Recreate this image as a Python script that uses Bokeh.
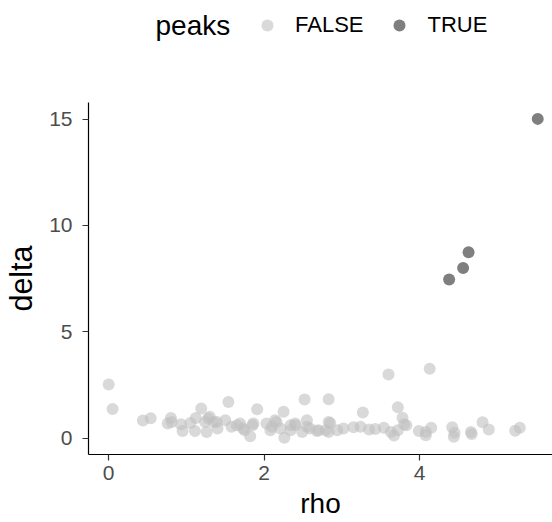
from bokeh.plotting import figure
from bokeh.layouts import column
from bokeh.models import ColumnDataSource, Legend, LegendItem, Label, FixedTicker, Range1d
from bokeh.embed import file_html
from bokeh.resources import INLINE

# Data
rho_false = [0.00, 0.05, 0.44, 0.54, 0.80, 0.76, 0.81, 0.95, 0.93, 1.05,
             1.12, 1.19, 1.11, 1.24, 1.26, 1.30, 1.35, 1.39, 1.40, 1.50,
             1.54, 1.58, 1.65, 1.69, 1.75, 1.82, 1.86, 1.91, 2.03, 2.08,
             2.10, 2.14, 2.16, 2.21, 2.25, 2.26, 2.34, 2.34, 2.40, 2.49,
             2.52, 2.55, 2.55, 2.59, 2.68, 2.70, 2.79, 2.83, 2.83, 2.83,
             2.85, 2.94, 3.02, 3.15, 3.24, 3.27, 3.35, 3.43, 3.54, 3.60,
             3.63, 3.67, 3.72, 3.72, 3.78, 3.80, 3.83, 3.99, 4.08, 4.08,
             4.13, 4.15, 4.42, 4.45, 4.44, 4.66, 4.67, 4.81, 4.89, 5.23,
             5.29, 1.73, 1.85, 1.28, 2.40]
delta_false = [2.52, 1.37, 0.83, 0.93, 0.95, 0.69, 0.76, 0.33, 0.65, 0.71,
               0.95, 1.39, 0.33, 0.76, 0.29, 1.00, 0.76, 0.76, 0.45, 0.84,
               1.70, 0.53, 0.61, 0.69, 0.37, 0.09, 0.69, 1.36, 0.69, 0.37,
               0.53, 0.84, 0.76, 0.45, 1.24, 0.02, 0.61, 0.37, 0.69, 0.29,
               1.82, 0.84, 0.53, 0.45, 0.33, 0.37, 0.37, 1.83, 0.76, 0.29,
               0.71, 0.37, 0.45, 0.51, 0.54, 1.20, 0.40, 0.43, 0.49, 2.99,
               0.29, 0.12, 0.37, 1.45, 0.96, 0.65, 0.61, 0.33, 0.29, 0.14,
               3.26, 0.49, 0.51, 0.25, 0.06, 0.29, 0.19, 0.75, 0.41, 0.35,
               0.49, 0.45, 0.61, 0.92, 0.61]
rho_true = [5.52, 4.63, 4.56, 4.38]
delta_true = [15.01, 8.74, 8.00, 7.46]

x_ticks = [0, 2, 4]
y_ticks = [0, 5, 10, 15]
legend_title = "peaks"
legend_labels = ["FALSE", "TRUE"]

FONT = "Liberation Sans"
COL_F, ALPHA_F = "#C0C0C0", 0.6
COL_T, ALPHA_T = "#7F7F7F", 1.0

src_f = ColumnDataSource(dict(x=rho_false, y=delta_false))
src_t = ColumnDataSource(dict(x=rho_true, y=delta_true))

# ---------------- main plot ----------------
p = figure(width=552, height=424, output_backend="svg", toolbar_location=None,
           x_range=Range1d(-0.26, 5.71), y_range=Range1d(-0.77, 15.78),
           min_border_left=88, min_border_right=0, min_border_top=4,
           min_border_bottom=68)
p.outline_line_color = None
p.xgrid.visible = False
p.ygrid.visible = False

p.scatter("x", "y", source=src_f, size=12, fill_color=COL_F,
          fill_alpha=ALPHA_F, line_color=None)
p.scatter("x", "y", source=src_t, size=12, fill_color=COL_T,
          fill_alpha=ALPHA_T, line_color=None)

for ax, ticks, title in ((p.xaxis[0], x_ticks, "rho"), (p.yaxis[0], y_ticks, "delta")):
    ax.ticker = FixedTicker(ticks=ticks)
    ax.minor_tick_line_color = None
    ax.major_tick_in = 0
    ax.major_tick_out = 6
    ax.major_tick_line_color = "#333333"
    ax.major_tick_line_width = 1.2
    ax.axis_line_color = "#000000"
    ax.axis_line_width = 1.2
    ax.major_label_text_font = FONT
    ax.major_label_text_font_size = "21px"
    ax.major_label_text_color = "#4D4D4D"
    ax.axis_label = title
    ax.axis_label_text_font = FONT
    ax.axis_label_text_font_style = "normal"
    ax.axis_label_text_color = "#000000"
    ax.axis_label_text_line_height = 1.0

p.xaxis[0].axis_label_text_font_size = "28px"
p.yaxis[0].axis_label_text_font_size = "30.5px"
p.xaxis[0].major_label_standoff = 5
p.xaxis[0].axis_label_standoff = 5
p.yaxis[0].major_label_standoff = 10
p.yaxis[0].axis_label_standoff = 8

# ---------------- legend strip ----------------
lg = figure(width=552, height=98, output_backend="svg", toolbar_location=None,
            x_range=Range1d(88, 552), y_range=Range1d(0, 98),
            x_axis_location=None, y_axis_location=None,
            min_border=0, min_border_left=88, min_border_right=0)
lg.outline_line_color = None
lg.xgrid.visible = False
lg.ygrid.visible = False
lf = lg.scatter("x", "y", source=src_f, size=12, fill_color=COL_F,
                fill_alpha=ALPHA_F, line_color=None)
lt = lg.scatter("x", "y", source=src_t, size=12, fill_color=COL_T,
                fill_alpha=ALPHA_T, line_color=None)

legend = Legend(items=[LegendItem(label=legend_labels[0], renderers=[lf]),
                       LegendItem(label=legend_labels[1], renderers=[lt])],
                orientation="horizontal", location=(164, 58),
                glyph_width=30, glyph_height=30, label_standoff=13, spacing=21,
                padding=0, margin=0, border_line_color=None,
                background_fill_alpha=0, label_text_font=FONT,
                label_text_font_size="22px", label_text_color="#000000")
lg.add_layout(legend, "center")

peaks = Label(x=155, y=73, text=legend_title, text_font=FONT,
              text_font_size="28px", text_color="#000000",
              text_baseline="alphabetic", text_align="left")
lg.add_layout(peaks)

layout = column(lg, p, spacing=0)
open("out.html", "w").write(file_html(layout, INLINE))
